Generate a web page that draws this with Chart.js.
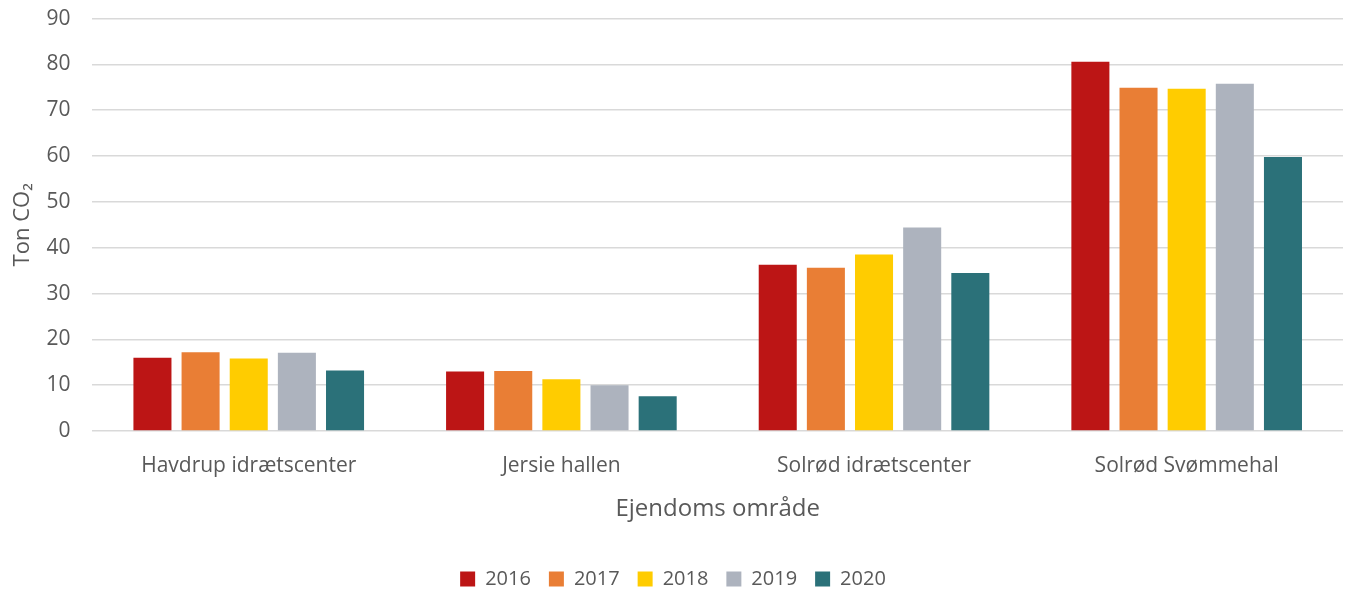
<!DOCTYPE html>
<html>
<head>
<meta charset="utf-8">
<script src="https://cdn.jsdelivr.net/npm/chart.js@4/dist/chart.umd.min.js"></script>
<style>
  html, body { margin: 0; padding: 0; background: #fff; }
  #wrap { width: 1352px; height: 593px; }
</style>
</head>
<body>
<div id="wrap"><canvas id="chart"></canvas></div>
<script>
// categories and series
const categories = ["Havdrup idrætscenter", "Jersie hallen", "Solrød idrætscenter", "Solrød Svømmehal"];
const years = ["2016", "2017", "2018", "2019", "2020"];
const values2016 = [16.0, 13.0, 36.3, 80.6];
const values2017 = [17.2, 13.1, 35.6, 74.9];
const values2018 = [15.8, 11.3, 38.5, 74.7];
const values2019 = [17.1, 10.0, 44.4, 75.8];
const values2020 = [13.2, 7.6, 34.5, 59.8];
const colors = ["#BC1515", "#E97E35", "#FFCC00", "#ADB3BE", "#2B7179"];

const seriesValues = [values2016, values2017, values2018, values2019, values2020];
const textColor = "#595959";
const fontFamily = "'Open Sans', 'Noto Sans', sans-serif";

new Chart(document.getElementById("chart"), {
  type: "bar",
  data: {
    labels: categories,
    datasets: years.map((y, i) => ({
      label: y,
      data: seriesValues[i],
      backgroundColor: colors[i],
      borderWidth: 0,
      barPercentage: 0.79,
      categoryPercentage: 0.77
    }))
  },
  options: {
    responsive: true,
    maintainAspectRatio: false,
    animation: false,
    layout: { padding: { top: 0, right: 9, left: 3, bottom: -6 } },
    plugins: {
      legend: {
        position: "bottom",
        labels: {
          boxWidth: 15,
          boxHeight: 15,
          padding: 18,
          color: textColor,
          font: { family: fontFamily, size: 20 }
        }
      },
      tooltip: { enabled: false }
    },
    scales: {
      x: {
        grid: { display: false },
        border: { display: false },
        ticks: { color: textColor, padding: 14, font: { family: fontFamily, size: 21 } },
        title: {
          display: true,
          text: "Ejendoms område",
          color: textColor,
          padding: { top: 3, bottom: 27 },
          font: { family: fontFamily, size: 24 }
        }
      },
      y: {
        min: 0,
        max: 90,
        // small label padding keeps the top gap tight; the rest of the gap is an invisible tick mark
        ticks: { stepSize: 10, color: textColor, padding: 6, font: { family: fontFamily, size: 21 } },
        grid: { color: "#d9d9d9", lineWidth: 1.5, drawTicks: true, tickLength: 16, tickColor: "rgba(0,0,0,0)" },
        border: { display: false },
        title: {
          display: true,
          text: "Ton CO₂",
          color: textColor,
          padding: { top: 7, bottom: 4 },
          font: { family: fontFamily, size: 22 }
        }
      }
    }
  }
});
</script>
</body>
</html>
